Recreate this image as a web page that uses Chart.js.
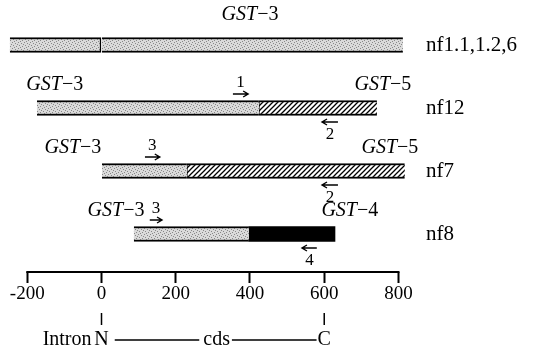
<!DOCTYPE html>
<html lang="en">
<head>
    <meta charset="UTF-8">
    <title>GST transcripts</title>
    <script src="https://cdn.jsdelivr.net/npm/chart.js@4.4.0/dist/chart.umd.min.js"></script>
    <style>
        * { margin: 0; padding: 0; box-sizing: border-box; }
        body { background: #fff; width: 546px; height: 347px; overflow: hidden; }
        .wrap { position: relative; width: 546px; height: 347px; }
    </style>
</head>
<body>
<div class="wrap"><canvas id="geneChart"></canvas></div>
<script>
// rows, top to bottom
const rowNames = ['nf1.1,1.2,6', 'nf12', 'nf7', 'nf8'];
const rowIndex = [0, 1, 2, 3];
const tickValues = [-200, 0, 200, 400, 600, 800];

// segment [start, end] in bp for each row, null where a row has none
const intronSeg = [[-247, 0], null, null, null];
const gst3Seg = [[0, 812], [-174, 424], [0, 230], [87, 397]];
const gst5Seg = [null, [424, 742], [230, 817], null];
const gst4Seg = [null, null, null, [397, 629]];

// gene names over the bars
const geneRow = [0, 1, 1, 2, 2, 3, 3];
const geneAt = [400, -126, 758, -77, 777, 39, 669];
const geneNum = ['3', '3', '5', '3', '5', '3', '4'];

// primers (forward above the bar, reverse below)
const primerRow = [1, 1, 2, 2, 3, 3];
const primerFrom = [354, 594, 117, 594, 130, 540];
const primerTo = [395, 637, 157, 637, 163, 580];
const primerDir = ['f', 'r', 'f', 'r', 'f', 'r'];
const primerNum = ['1', '2', '3', '2', '3', '4'];

const SERIF = "'Liberation Serif', 'DejaVu Serif', serif";

function makeStipple() {
    const c = document.createElement('canvas');
    c.width = 6; c.height = 6;
    const g = c.getContext('2d');
    g.fillStyle = '#dadada';
    g.fillRect(0, 0, 6, 6);
    g.fillStyle = '#888';
    [[0, 0], [3, 1], [1, 3], [4, 4], [5, 2], [2, 5]].forEach(p => g.fillRect(p[0], p[1], 1, 1));
    return g.createPattern(c, 'repeat');
}

function makeHatch() {
    const s = 5;
    const c = document.createElement('canvas');
    c.width = s; c.height = s;
    const g = c.getContext('2d');
    g.fillStyle = '#fff';
    g.fillRect(0, 0, s, s);
    g.strokeStyle = '#000';
    g.lineWidth = 1.3;
    g.beginPath();
    g.moveTo(0, s); g.lineTo(s, 0);
    g.moveTo(-1, 1); g.lineTo(1, -1);
    g.moveTo(s - 1, s + 1); g.lineTo(s + 1, s - 1);
    g.stroke();
    return g.createPattern(c, 'repeat');
}

function seg(arr) {
    return arr.map((r, i) => r ? { x: r, y: rowIndex[i] } : null).filter(Boolean);
}

// extra drawing: axis line, gene names, primers, N / C legend
const annotate = {
    id: 'annotate',
    afterDraw(chart) {
        const { ctx, scales: { x, y } } = chart;
        const base = x.top;
        ctx.save();
        ctx.strokeStyle = '#000';
        ctx.fillStyle = '#000';

        // axis line spanning the ticks only
        ctx.lineWidth = 2;
        ctx.beginPath();
        ctx.moveTo(x.getPixelForValue(tickValues[0]) - 1, base);
        ctx.lineTo(x.getPixelForValue(tickValues[tickValues.length - 1]) + 1, base);
        ctx.stroke();

        // gene names: italic GST plus upright suffix
        ctx.textBaseline = 'middle';
        geneRow.forEach((r, i) => {
            const cy = y.getPixelForValue(r) - (r === 0 ? 30 : 23);
            const cx = x.getPixelForValue(geneAt[i]);
            ctx.font = 'italic 20px ' + SERIF;
            const w1 = ctx.measureText('GST').width;
            ctx.font = '20px ' + SERIF;
            const tail = '\u2212' + geneNum[i];
            const w2 = ctx.measureText(tail).width;
            const left = cx - (w1 + w2) / 2;
            ctx.textAlign = 'left';
            ctx.font = 'italic 20px ' + SERIF;
            ctx.fillText('GST', left, cy);
            ctx.font = '20px ' + SERIF;
            ctx.fillText(tail, left + w1, cy);
        });

        // primer arrows
        ctx.lineWidth = 1.4;
        ctx.font = '17px ' + SERIF;
        ctx.textAlign = 'center';
        primerRow.forEach((r, i) => {
            const cy = y.getPixelForValue(r);
            const fwd = primerDir[i] === 'f';
            const ay = fwd ? cy - 14 : cy + 14;
            const x1 = x.getPixelForValue(primerFrom[i]);
            const x2 = x.getPixelForValue(primerTo[i]);
            const tip = fwd ? x2 : x1;
            const back = fwd ? -5 : 5;
            ctx.beginPath();
            ctx.moveTo(x1, ay); ctx.lineTo(x2, ay);
            ctx.moveTo(tip + back, ay - 3); ctx.lineTo(tip, ay); ctx.lineTo(tip + back, ay + 3);
            ctx.stroke();
            ctx.fillText(primerNum[i], (x1 + x2) / 2, fwd ? ay - 11 : ay + 13);
        });

        // N ---- cds ---- C
        const xn = x.getPixelForValue(0);
        const xc = x.getPixelForValue(600);
        const xm = x.getPixelForValue(310);
        ctx.lineWidth = 1.5;
        ctx.beginPath();
        ctx.moveTo(xn, base + 41); ctx.lineTo(xn, base + 53);
        ctx.moveTo(xc, base + 41); ctx.lineTo(xc, base + 53);
        ctx.stroke();
        const ty = base + 68;
        ctx.font = '20px ' + SERIF;
        ctx.textAlign = 'center';
        ctx.fillText('N', xn, ty);
        ctx.fillText('C', xc, ty);
        ctx.fillText('cds', xm, ty);
        ctx.textAlign = 'right';
        ctx.fillText('Intron', xn - 10, ty);
        const wn = ctx.measureText('N').width / 2;
        const wc = ctx.measureText('C').width / 2;
        const wm = ctx.measureText('cds').width / 2;
        ctx.lineWidth = 1.4;
        ctx.beginPath();
        ctx.moveTo(xn + wn + 6, ty); ctx.lineTo(xm - wm - 4, ty);
        ctx.moveTo(xm + wm + 2, ty); ctx.lineTo(xc - wc - 1, ty);
        ctx.stroke();
        ctx.restore();
    }
};

const stipple = makeStipple();
const hatch = makeHatch();
const barBase = { grouped: false, barThickness: 15, borderColor: '#000', borderSkipped: false };

new Chart(document.getElementById('geneChart'), {
    type: 'bar',
    data: {
        datasets: [
            { ...barBase, label: 'intron', data: seg(intronSeg), backgroundColor: stipple,
              borderWidth: { top: 2, bottom: 2, left: 0, right: 1.5 } },
            { ...barBase, label: 'GST-3', data: seg(gst3Seg), backgroundColor: stipple,
              borderWidth: { top: 2, bottom: 2, left: 0, right: 0 } },
            { ...barBase, label: 'GST-5', data: seg(gst5Seg), backgroundColor: hatch,
              borderWidth: { top: 2, bottom: 2, left: 1, right: 0 } },
            { ...barBase, label: 'GST-4', data: seg(gst4Seg), backgroundColor: '#000', borderWidth: 0 }
        ]
    },
    options: {
        indexAxis: 'y',
        responsive: true,
        maintainAspectRatio: false,
        animation: false,
        layout: { padding: { left: 5, top: 0, right: 0, bottom: 0 } },
        plugins: { legend: { display: false }, tooltip: { enabled: false } },
        scales: {
            x: {
                type: 'linear',
                min: -260,
                max: 858,
                afterBuildTicks: s => { s.ticks = tickValues.map(v => ({ value: v })); },
                afterFit: s => { s.height = 75; s.paddingLeft = 0; s.paddingRight = 0; },
                border: { display: false },
                grid: { drawOnChartArea: false, drawTicks: true, tickLength: 11, tickWidth: 2, tickColor: '#000' },
                ticks: { color: '#000', font: { family: SERIF, size: 19 }, padding: 0, maxRotation: 0, autoSkip: false }
            },
            y: {
                type: 'linear',
                position: 'right',
                reverse: true,
                offset: false,
                min: -0.714,
                max: 3.603,
                afterBuildTicks: s => { s.ticks = rowIndex.map(v => ({ value: v })); },
                afterFit: s => { s.width = 126; s.paddingTop = 0; s.paddingBottom = 0; },
                border: { display: false },
                grid: { display: false, drawTicks: false },
                ticks: { color: '#000', font: { family: SERIF, size: 21 }, padding: 6,
                         callback: v => rowNames[v] ?? '' }
            }
        }
    },
    plugins: [annotate]
});
</script>
</body>
</html>
